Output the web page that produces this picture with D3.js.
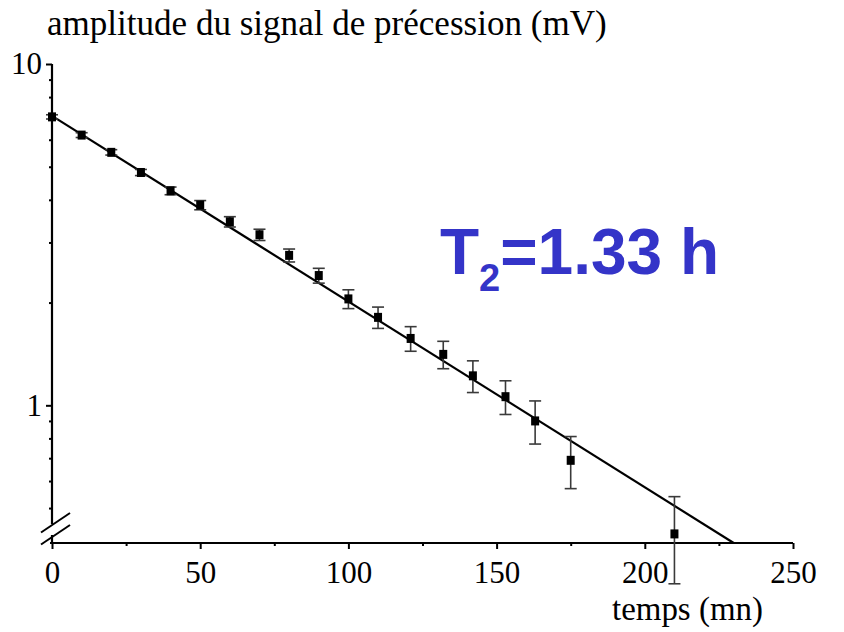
<!DOCTYPE html>
<html>
<head>
<meta charset="utf-8">
<script src="https://cdn.jsdelivr.net/npm/d3@7"></script>
<style>
  html, body { margin: 0; padding: 0; background: #fff; }
  svg { display: block; }
</style>
</head>
<body>
<svg id="chart" width="844" height="632"></svg>
<script>
// ---- data ----
const times      = [0, 10, 20, 30, 40, 50, 60, 70, 80, 90, 100, 110, 121, 132, 142, 153, 163, 175, 210];
const amplitudes = [7.0, 6.19, 5.51, 4.81, 4.25, 3.86, 3.45, 3.16, 2.75, 2.40, 2.05, 1.81, 1.57, 1.41, 1.22, 1.06, 0.90, 0.69, 0.42];
const errors     = [0.10, 0.10, 0.10, 0.10, 0.11, 0.12, 0.12, 0.12, 0.12, 0.12, 0.13, 0.13, 0.13, 0.13, 0.13, 0.12, 0.13, 0.12, 0.12];
const fitTimes      = [0, 230];
const fitAmplitudes = [7.05, 0.395];
const xTicks      = [0, 50, 100, 150, 200, 250];
const xMinorTicks = [25, 75, 125, 175, 225];
const yTicks      = [1, 10];
const yMinorTicks = [0.5, 0.6, 0.7, 0.8, 0.9, 2, 3, 4, 5, 6, 7, 8, 9];
const yTitle = "amplitude du signal de précession (mV)";
const xTitle = "temps (mn)";

(function () {
// ---- layout ----
const svg = d3.select("#chart");
const serif = "'Liberation Serif', 'Times New Roman', serif";
const mLeft = 52, mRight = 793, mTop = 64, mBottom = 543;

const x = d3.scaleLinear().domain([0, 250]).range([mLeft, mRight]);
const y = d3.scaleLog().domain([0.395, 10]).range([mBottom, mTop]);

// x axis
const xAxis = svg.append("g").attr("transform", `translate(0,${mBottom})`)
  .call(d3.axisBottom(x).tickValues(xTicks).tickSize(6).tickSizeOuter(0).tickPadding(12).tickFormat(d3.format("d")));
xAxis.select(".domain").attr("stroke-width", 2.2).attr("d", `M${mLeft - 2},0H${x(250)}`);
xAxis.selectAll(".tick line").attr("stroke-width", 2);
xAxis.selectAll(".tick text").attr("font-family", serif).attr("font-size", 31).attr("fill", "#000");

const xMinor = svg.append("g").attr("transform", `translate(0,${mBottom})`)
  .call(d3.axisBottom(x).tickValues(xMinorTicks).tickSize(3).tickFormat(""));
xMinor.select(".domain").remove();
xMinor.selectAll(".tick line").attr("stroke-width", 2);

// y axis (ticks only, domain drawn with a break)
const yAxis = svg.append("g").attr("transform", `translate(${mLeft},0)`)
  .call(d3.axisLeft(y).tickValues(yTicks).tickSize(6).tickPadding(4).tickFormat(d3.format("d")));
yAxis.select(".domain").remove();
yAxis.selectAll(".tick line").attr("stroke-width", 2);
yAxis.selectAll(".tick text").attr("font-family", serif).attr("font-size", 31).attr("fill", "#000");

const yMinor = svg.append("g").attr("transform", `translate(${mLeft},0)`)
  .call(d3.axisLeft(y).tickValues(yMinorTicks).tickSize(3).tickFormat(""));
yMinor.select(".domain").remove();
yMinor.selectAll(".tick line").attr("stroke-width", 2);

// axis line with break marks
const breakTop = mBottom - 19, breakBot = mBottom - 8;
svg.append("line").attr("x1", mLeft).attr("x2", mLeft).attr("y1", y(10)).attr("y2", breakTop)
  .attr("stroke", "#000").attr("stroke-width", 2.2);
svg.append("line").attr("x1", mLeft).attr("x2", mLeft).attr("y1", breakBot).attr("y2", mBottom)
  .attr("stroke", "#000").attr("stroke-width", 2.2);
[breakTop + 1, breakBot + 2].forEach(yy => {
  svg.append("line")
    .attr("x1", mLeft - 11).attr("y1", yy + 7.5)
    .attr("x2", mLeft + 18).attr("y2", yy - 12)
    .attr("stroke", "#000").attr("stroke-width", 2);
});

// fit line
const pts = times.map((t, i) => ({ t, v: amplitudes[i], e: errors[i] }));
const fit = fitTimes.map((t, i) => ({ t, v: fitAmplitudes[i] }));
svg.append("path").datum(fit)
  .attr("d", d3.line().x(d => x(d.t)).y(d => y(d.v)))
  .attr("fill", "none").attr("stroke", "#000").attr("stroke-width", 2.2);

// error bars
const eb = svg.append("g").attr("stroke", "#3a3a3a").attr("stroke-width", 1.6);
pts.forEach(d => {
  const cx = x(d.t), y1 = y(d.v + d.e), y2 = y(d.v - d.e);
  eb.append("line").attr("x1", cx).attr("x2", cx).attr("y1", y1).attr("y2", y2);
  eb.append("line").attr("x1", cx - 6).attr("x2", cx + 6).attr("y1", y1).attr("y2", y1);
  eb.append("line").attr("x1", cx - 6).attr("x2", cx + 6).attr("y1", y2).attr("y2", y2);
});

// markers
svg.append("g").selectAll("rect").data(pts).join("rect")
  .attr("x", d => x(d.t) - 4).attr("y", d => y(d.v) - 4.5)
  .attr("width", 8).attr("height", 9).attr("fill", "#000");

// titles
function fitText(sel, width) {
  const w = sel.node().getComputedTextLength();
  const fs = parseFloat(sel.attr("font-size"));
  sel.attr("font-size", fs * width / w);
}
const yt = svg.append("text").attr("x", 47).attr("y", 35)
  .attr("font-family", serif).attr("font-size", 28).attr("fill", "#000").text(yTitle);
fitText(yt, 560);
const xt = svg.append("text").attr("x", 612).attr("y", 620)
  .attr("font-family", serif).attr("font-size", 28).attr("fill", "#000").text(xTitle);
fitText(xt, 151);

// annotation
const ann = svg.append("text").attr("x", 440).attr("y", 274)
  .attr("font-family", "'Liberation Sans', Arial, sans-serif").attr("font-weight", "bold")
  .attr("fill", "#3434c8").attr("font-size", 64);
ann.append("tspan").text("T");
ann.append("tspan").attr("font-size", 38).attr("dy", 17).text("2");
ann.append("tspan").attr("dy", -17).text("=1.33 h");
})();
</script>
</body>
</html>
